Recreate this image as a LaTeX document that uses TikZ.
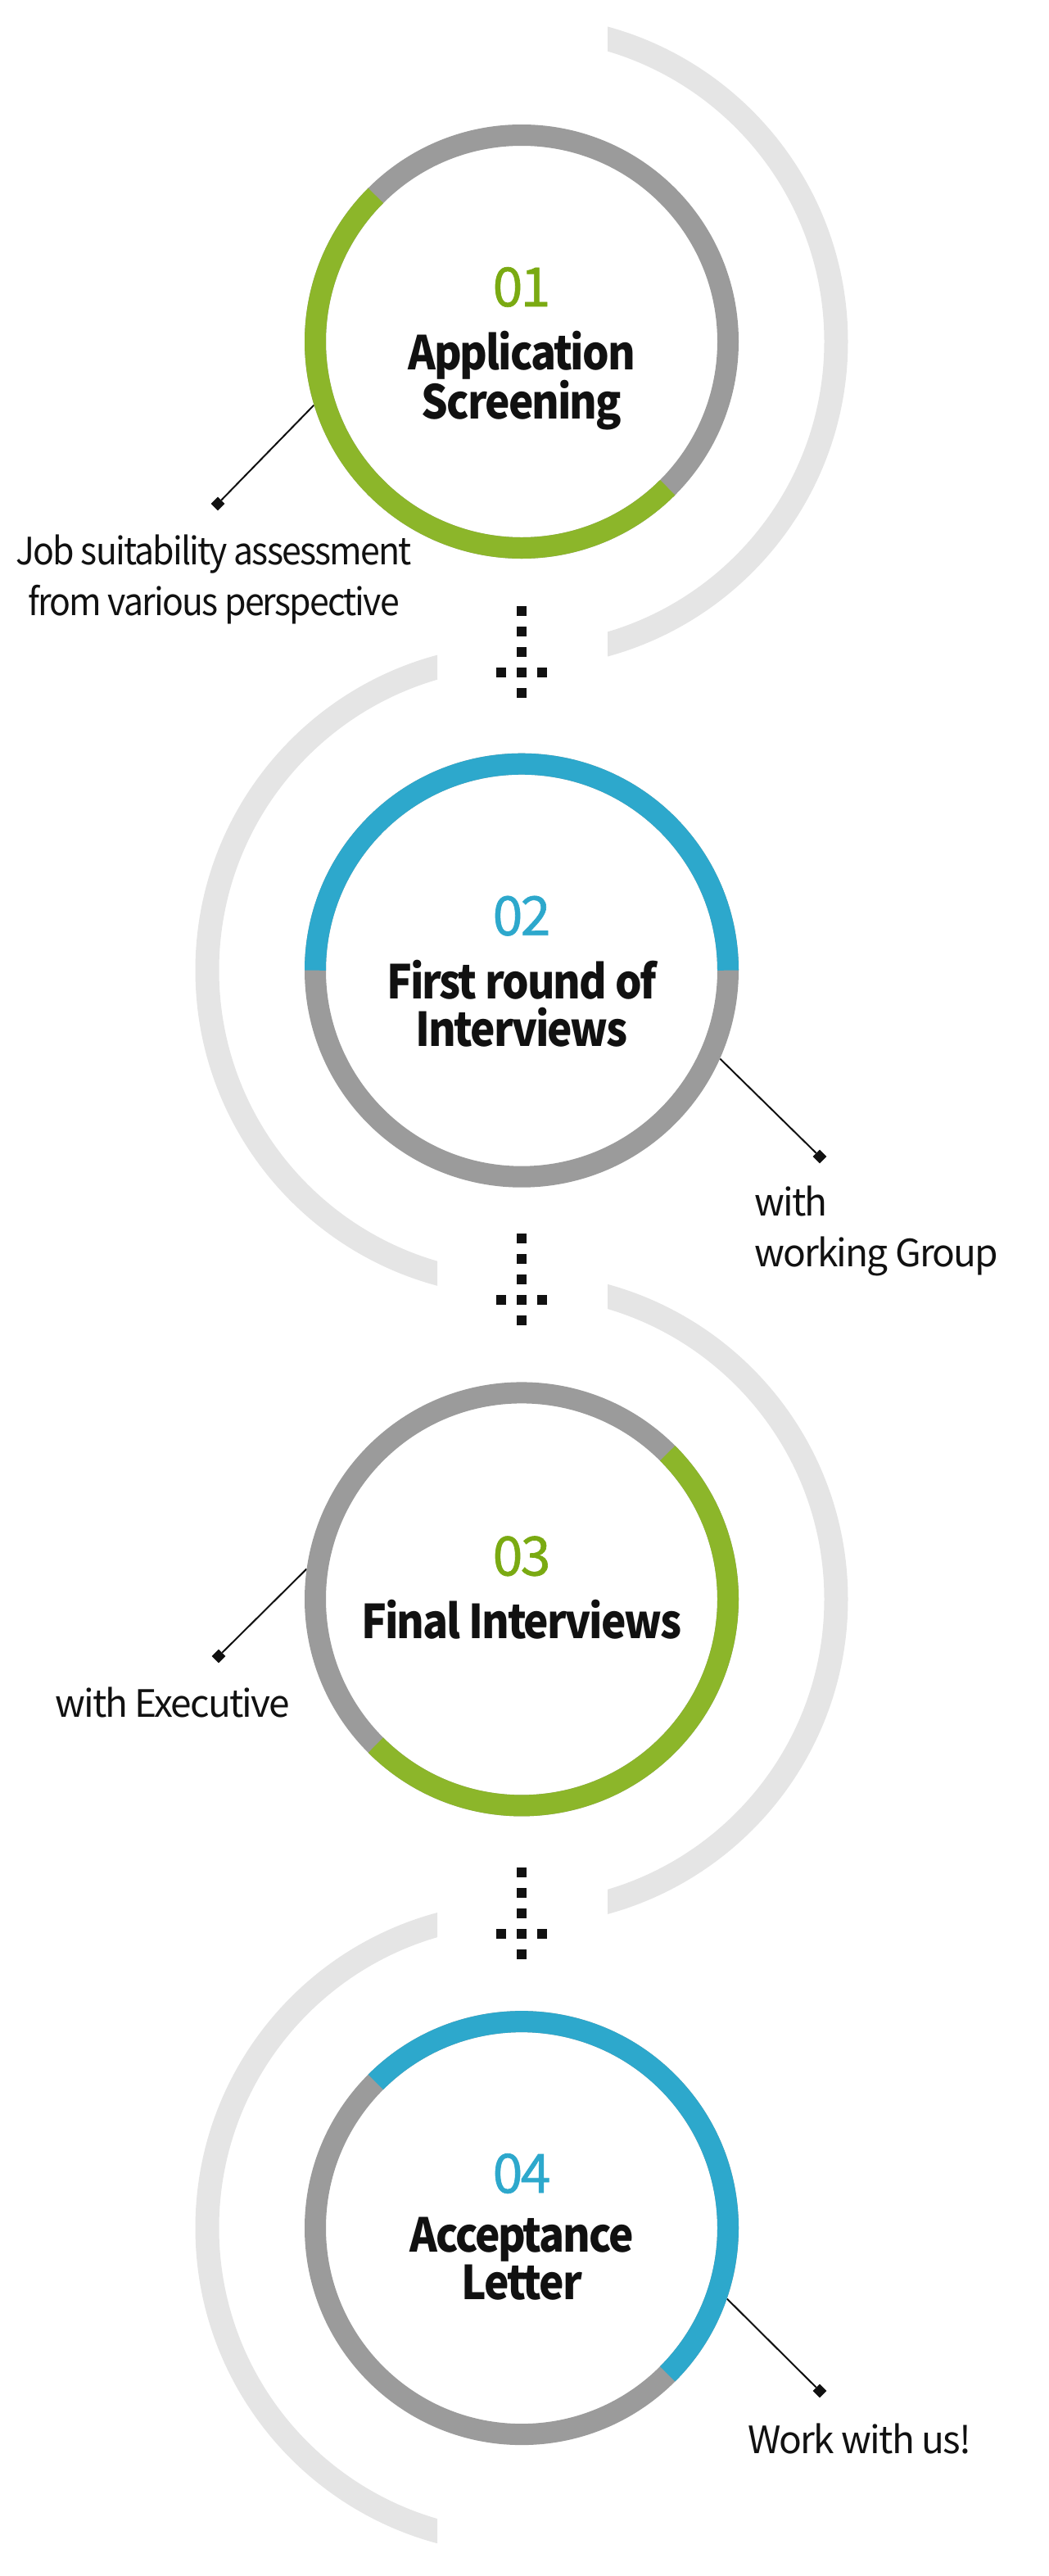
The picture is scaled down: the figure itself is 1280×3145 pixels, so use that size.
\documentclass[tikz,border=0pt]{standalone}
\usepackage{fontspec}
\setmainfont{Noto Sans CJK KR}
\newfontfamily\titlefont{Noto Sans CJK KR}[LetterSpace=-3.5, FakeStretch=0.9]
\newfontfamily\numfont{Noto Sans CJK KR}[LetterSpace=-4, FakeBold=1]
\newfontfamily\notefont{Noto Sans CJK KR}[LetterSpace=-4]
\usetikzlibrary{positioning,calc,shapes.geometric}
\definecolor{ringgreen}{HTML}{8CB62A}
\definecolor{numgreen}{HTML}{7AAA12}
\definecolor{ringblue}{HTML}{2DA8CC}
\definecolor{ringgray}{HTML}{9B9B9B}
\definecolor{arcgray}{HTML}{E5E5E5}
\definecolor{ink}{HTML}{111111}
\begin{document}
\begin{tikzpicture}[
  x=1pt, y=1pt,
  node distance=767.7pt,
  stage/.style={circle, minimum size=530pt, inner sep=0pt},
  ring/.style={line width=26pt},
  halo/.style={arcgray, line width=29pt},
  num/.style={anchor=base, inner sep=0pt, font=\numfont\fontsize{66}{66}\selectfont},
  title/.style={inner sep=0pt, align=center, text=ink, execute at begin node=\rule{0pt}{45pt},
    font=\titlefont\bfseries\fontsize{57}{58}\selectfont},
  note/.style={inner sep=0pt, text=ink, execute at begin node=\rule{0pt}{40pt},
    font=\notefont\fontsize{46}{62}\selectfont},
  tag/.style={diamond, fill=ink, inner sep=0pt, minimum size=17pt},
  leader/.style={ink, line width=2pt},
  dotarrow/.pic={
    \foreach \dy in {50,25,0,-25,-50} \fill[ink] (-6,\dy-6) rectangle ++(12,12);
    \fill[ink] (-31,-31) rectangle ++(12,12);
    \fill[ink] (19,-31) rectangle ++(12,12);
  }
]
\useasboundingbox (0,0) rectangle (1280,-3145);

\node[stage] (s1) at (637,-417) {};
\node[stage, below of=s1] (s2) {};
\node[stage, below of=s2] (s3) {};
\node[stage, below of=s3] (s4) {};

\begin{scope}
  \clip (742,0) rectangle (1280,-3145);
  \draw[halo] (s1.center) circle[radius=384pt];
  \draw[halo] (s3.center) circle[radius=384pt];
\end{scope}
\begin{scope}
  \clip (0,0) rectangle (534,-3145);
  \draw[halo] (s2.center) circle[radius=384pt];
  \draw[halo] (s4.center) circle[radius=384pt];
\end{scope}

\node[tag] (d1) at (266,-615) {};
\node[tag] (d2) at (1001,-1412) {};
\node[tag] (d3) at (267,-2022) {};
\node[tag] (d4) at (1001,-2919) {};

\draw[leader] (s1.197.5) -- (d1);
\draw[leader] (s2.336) -- (d2);
\draw[leader] (s3.172) -- (d3);
\draw[leader] (s4.341) -- (d4);

\draw[ring, ringgray] (s1.center) circle[radius=252pt];
\draw[ring, ringgreen] ([shift={(135:252pt)}]s1.center) arc[start angle=135, end angle=315, radius=252pt];
\draw[ring, ringgray] (s2.center) circle[radius=252pt];
\draw[ring, ringblue] ([shift={(0:252pt)}]s2.center) arc[start angle=0, end angle=180, radius=252pt];
\draw[ring, ringgray] (s3.center) circle[radius=252pt];
\draw[ring, ringgreen] ([shift={(-135:252pt)}]s3.center) arc[start angle=-135, end angle=45, radius=252pt];
\draw[ring, ringgray] (s4.center) circle[radius=252pt];
\draw[ring, ringblue] ([shift={(-45:252pt)}]s4.center) arc[start angle=-45, end angle=135, radius=252pt];

\node[num, text=numgreen] (n1) at ([yshift=43pt]s1.center) {01};
\node[title, below=30pt of n1.base] (t1) {Application\\Screening};
\node[num, text=ringblue] (n2) at ([yshift=43pt]s2.center) {02};
\node[title, below=30pt of n2.base] (t2) {First round of\\Interviews};
\node[num, text=numgreen] (n3) at ([yshift=29pt]s3.center) {03};
\node[title, below=30pt of n3.base] (t3) {Final Interviews};
\node[num, text=ringblue] (n4) at ([yshift=43pt]s4.center) {04};
\node[title, below=30pt of n4.base] (t4) {Acceptance\\Letter};

\node[note, align=center, below=29pt of d1, xshift=-5pt,
  font=\notefont\addfontfeatures{FakeStretch=0.93}\fontsize{46}{62}\selectfont] (m1) {Job suitability assessment\\from various perspective};
\node[note, align=left, anchor=north west] (m2) at (921,-1448) {with\\working Group};
\node[note, align=left, anchor=north west] (m3) at (67,-2056) {with Executive};
\node[note, align=left, anchor=north west] (m4) at (913,-2955) {Work with us!};

\pic at ($(s1)!0.5!(s2)+(0,5)$) {dotarrow};
\pic at ($(s2)!0.5!(s3)+(0,7)$) {dotarrow};
\pic at ($(s3)!0.5!(s4)$) {dotarrow};
\end{tikzpicture}
\end{document}
